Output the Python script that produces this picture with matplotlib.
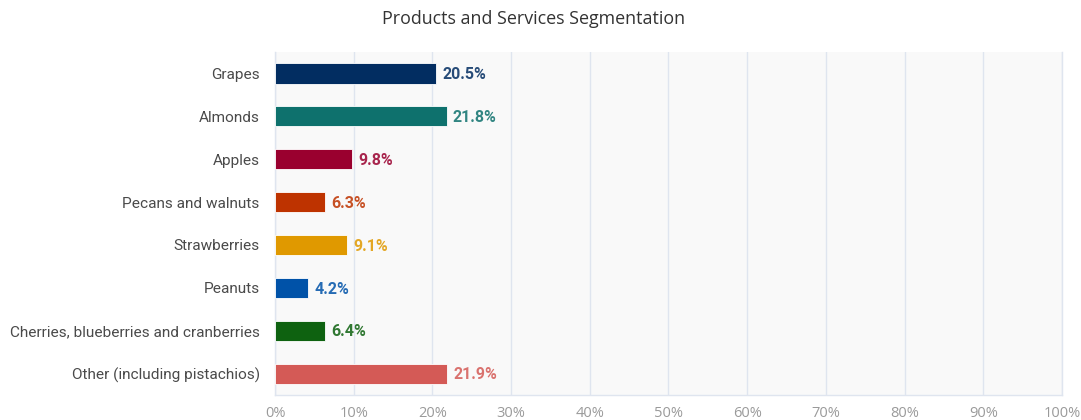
import matplotlib
matplotlib.use("Agg")
import matplotlib.pyplot as plt
from matplotlib.ticker import FuncFormatter

categories = ["Grapes", "Almonds", "Apples", "Pecans and walnuts", "Strawberries",
              "Peanuts", "Cherries, blueberries and cranberries", "Other (including pistachios)"]
values = [20.5, 21.8, 9.8, 6.3, 9.1, 4.2, 6.4, 21.9]
colors = ["#022d61", "#0e716d", "#9a002f", "#be3300", "#e09900", "#0052a8", "#0e6210", "#d45a56"]
ticks = [0, 10, 20, 30, 40, 50, 60, 70, 80, 90, 100]

fig = plt.figure(figsize=(10.81, 4.2), dpi=100)
ax = fig.add_axes([0.2544, 0.0595, 0.728, 0.8165])
ax.set_facecolor("#f9f9f9")

y = list(range(len(categories)))
ax.barh(y, values, height=0.47, color=colors, edgecolor="white", linewidth=0.6, zorder=3)
for yi, v, c in zip(y, values, colors):
    ax.text(v + 0.8, yi + 0.03, f"{v}%", va="center", ha="left", color=c, fontsize=11.5,
            fontweight="bold", family="Roboto", alpha=0.85, zorder=4)

ax.set_ylim(len(categories) - 0.5, -0.5)
ax.set_xlim(0, 100)
ax.set_xticks(ticks)
ax.xaxis.set_major_formatter(FuncFormatter(lambda v, p: f"{int(v)}%"))
ax.set_yticks(y)
ax.set_yticklabels(categories, family="Roboto", fontsize=11.1, color="#4a4a4a")
for lbl in ax.get_xticklabels():
    lbl.set_family("Open Sans")
    lbl.set_fontsize(10.5)
    lbl.set_color("#9a9a9a")
ax.tick_params(axis="both", length=0)
ax.tick_params(axis="x", pad=8)
ax.tick_params(axis="y", pad=11)
ax.grid(axis="x", color="#dfe5ef", linewidth=1, zorder=0)
for s in ["top", "right", "bottom", "left"]:
    ax.spines[s].set_color("#dfe5ef")
    ax.spines[s].set_linewidth(1)
ax.spines["top"].set_visible(False)

fig.text(0.494, 0.955, "Products and Services Segmentation", ha="center", va="center",
         family="Open Sans", fontsize=12.9, color="#333333")

fig.savefig("out.png", dpi=100)
